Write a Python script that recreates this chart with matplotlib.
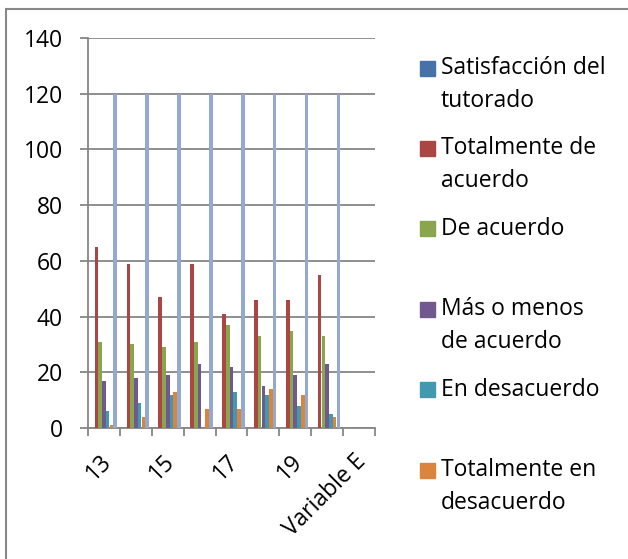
"""
Encuesta de tutorias: barras agrupadas por categoria (estilo Excel)
"""

import numpy as np
import matplotlib.pyplot as plt
from matplotlib.patches import Rectangle

plt.rcParams['font.family'] = ['Open Sans', 'DejaVu Sans']

categories = ['13', '14', '15', '16', '17', '18', '19', '20', 'Variable E']
shown_labels = ['13', '', '15', '', '17', '', '19', '', 'Variable E']

series_names = ['Satisfacción del tutorado', 'Totalmente de acuerdo', 'De acuerdo',
                'Más o menos de acuerdo', 'En desacuerdo', 'Totalmente en desacuerdo',
                'Total']
legend_lines = [['Satisfacción del', 'tutorado'], ['Totalmente de', 'acuerdo'],
                ['De acuerdo'], ['Más o menos', 'de acuerdo'], ['En desacuerdo'],
                ['Totalmente en', 'desacuerdo']]

satisfaccion = [0, 0, 0, 0, 0, 0, 0, 0, 0]
totalmente_acuerdo = [65, 59, 47, 59, 41, 46, 46, 55, 0]
de_acuerdo = [31, 30, 29, 31, 37, 33, 35, 33, 0]
mas_o_menos = [17, 18, 19, 23, 22, 15, 19, 23, 0]
en_desacuerdo = [6, 9, 12, 0, 13, 12, 8, 5, 0]
totalmente_desacuerdo = [1, 4, 13, 7, 7, 14, 12, 4, 0]
total = [120, 120, 120, 120, 120, 120, 120, 120, 0]

series = [satisfaccion, totalmente_acuerdo, de_acuerdo, mas_o_menos,
          en_desacuerdo, totalmente_desacuerdo, total]
colors = ['#4572A7', '#AA4643', '#89A54E', '#71588F', '#4198AF', '#DB843D', '#93A9CF']

W, H = 628, 559
FS = 16.5
fig = plt.figure(figsize=(W / 100, H / 100), dpi=100)
ax = fig.add_axes([88 / W, 1 - 428 / H, 287 / W, 390 / H])

n = len(series)
width = 1 / (n + 1.5)
x = np.arange(len(categories))
for i, (vals, col) in enumerate(zip(series, colors)):
    ax.bar(x + (i - (n - 1) / 2) * width, vals, width=width * 0.95, color=col,
           edgecolor='none', zorder=3)

ax.set_xlim(-0.5, len(categories) - 0.5)
ax.set_ylim(0, 140)
ax.set_yticks(np.arange(0, 141, 20))
ax.yaxis.grid(True, color='#868686', linewidth=1.3, zorder=0)

# label anchors sit a bit right of the category centre, like Excel's rotated labels
ax.set_xticks(x + 0.12)
ax.set_xticklabels(shown_labels, rotation=45, ha='right', va='center',
                   rotation_mode='anchor', fontsize=FS)
ax.set_xticks(np.arange(-0.5, len(categories)), minor=True)
ax.tick_params(axis='x', which='major', length=0, pad=22)
ax.tick_params(axis='x', which='minor', length=6, width=1.3, color='#868686')
ax.tick_params(axis='y', length=6, width=1.3, color='#868686', pad=12, labelsize=FS)

for s in ['top', 'right']:
    ax.spines[s].set_visible(False)
for s in ['left', 'bottom']:
    ax.spines[s].set_color('#868686')
    ax.spines[s].set_linewidth(1.3)

# legend drawn by hand, evenly spaced like Excel
y0, step = 68, 80.4
for i, lines in enumerate(legend_lines):
    yc = y0 + i * step
    fig.patches.append(Rectangle((420 / W, 1 - (yc + 7.5) / H), 15 / W, 15 / H,
                                 transform=fig.transFigure, color=colors[i]))
    for j, line in enumerate(lines):
        fig.text(441 / W, 1 - (yc + j * 33) / H, line, fontsize=FS,
                 va='center', ha='left', color='#000000')

# chart area border (cut off at right and bottom)
fig.patches.append(Rectangle((5.5 / W, -0.1), 1.2, 1.1 - 8.5 / H,
                             transform=fig.transFigure, fill=False,
                             edgecolor='#888888', linewidth=1.5))

fig.savefig('out.png', dpi=100)
